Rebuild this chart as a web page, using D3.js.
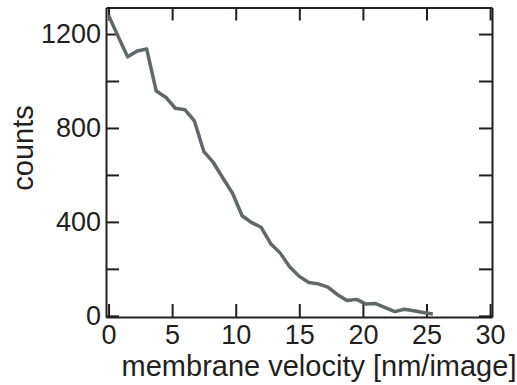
<!DOCTYPE html>
<html lang="en">
<head>
<meta charset="UTF-8">
<title>membrane velocity histogram</title>
<script src="https://d3js.org/d3.v7.min.js"></script>
<style>
body {margin: 0; background: white;}
svg {display: block;}
text {font-family: "Liberation Sans", Arial, Helvetica, sans-serif; fill: #231f20;}
.axis path, .axis line {stroke: #231f20; stroke-width: 2;}
.axis text {font-size: 27px;}
</style>
</head>
<body>
<svg width="517" height="385"></svg>
<script>
// values
var velocity = [0, 0.75, 1.5, 2.25, 3, 3.75, 4.5, 5.25, 6, 6.75, 7.5, 8.25, 9, 9.75, 10.5, 11.25,
  12, 12.75, 13.5, 14.25, 15, 15.75, 16.5, 17.25, 18, 18.75, 19.5, 20.25, 21, 21.75, 22.5, 23.25,
  24, 24.75, 25.5];
var counts = [1280, 1190, 1103, 1128, 1136, 957, 931, 884, 878, 830, 699, 652, 586, 522, 426, 397,
  377, 307, 267, 208, 168, 142, 136, 122, 90, 65, 70, 50, 52, 35, 18, 28,
  22, 14, 8];
var xTicks = [0, 5, 10, 15, 20, 25, 30];
var yTicks = [0, 200, 400, 600, 800, 1000, 1200];
var yLabels = [0, 400, 800, 1200];

var svg = d3.select("svg");

var xs = d3.scaleLinear().domain([-0.2, 30.15]).range([106, 492]);
var ys = d3.scaleLinear().domain([-5, 1313]).range([317, 7.5]);

var tick = 13;

svg.append("g").attr("class", "axis")
  .attr("transform", "translate(0,317)")
  .call(d3.axisBottom(xs).tickValues(xTicks).tickSizeInner(-tick).tickSizeOuter(0).tickPadding(8).tickFormat(d3.format("d")));

svg.append("g").attr("class", "axis")
  .attr("transform", "translate(0,7.5)")
  .call(d3.axisTop(xs).tickValues(xTicks).tickSizeInner(-tick).tickSizeOuter(0).tickFormat(""));

svg.append("g").attr("class", "axis")
  .attr("transform", "translate(106,0)")
  .call(d3.axisLeft(ys).tickValues(yTicks).tickSizeInner(-tick).tickSizeOuter(0).tickPadding(5)
    .tickFormat(function(d) { return yLabels.indexOf(d) >= 0 ? d : ""; }));

svg.append("g").attr("class", "axis")
  .attr("transform", "translate(492,0)")
  .call(d3.axisRight(ys).tickValues(yTicks).tickSizeInner(-tick).tickSizeOuter(0).tickFormat(""));

var line = d3.line()
  .x(function(d, i) { return xs(velocity[i]); })
  .y(function(d) { return ys(d); });

svg.append("path")
  .datum(counts)
  .attr("d", line)
  .attr("fill", "none")
  .attr("stroke", "#5f686b")
  .attr("stroke-width", 3.5)
  .attr("stroke-linejoin", "round");

svg.append("text")
  .attr("x", 319)
  .attr("y", 376)
  .attr("text-anchor", "middle")
  .style("font-size", "29px")
  .text("membrane velocity [nm/image]");

svg.append("text")
  .attr("transform", "translate(33,148) rotate(-90)")
  .attr("text-anchor", "middle")
  .style("font-size", "29px")
  .text("counts");
</script>
</body>
</html>
